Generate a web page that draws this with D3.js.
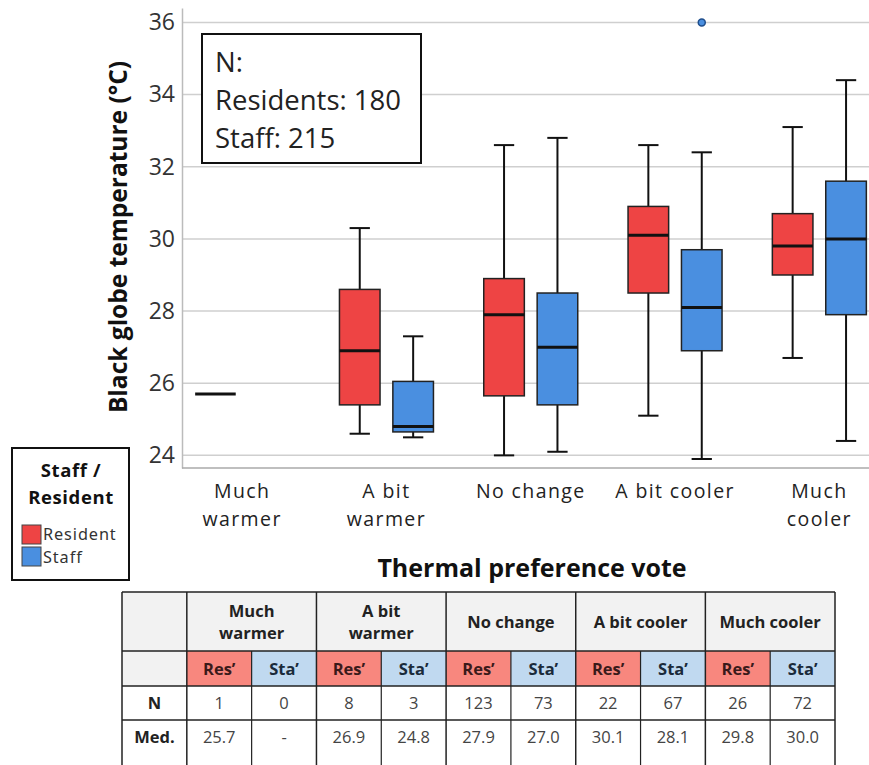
<!DOCTYPE html>
<html><head><meta charset="utf-8">
<script src="https://cdn.jsdelivr.net/npm/d3@7"></script>
<style>body{margin:0;background:#fff}svg{display:block}</style>
</head><body>
<script>
// ---- data ----
const categories = ["Much warmer","A bit warmer","No change","A bit cooler","Much cooler"];
const categoryLabels = [["Much","warmer"],["A bit","warmer"],["No change"],["A bit cooler"],["Much","cooler"]];
const groups = ["Resident","Staff"];
// [whiskerLow, q1, median, q3, whiskerHigh]
const residentStats = [
  [25.7,25.7,25.7,25.7,25.7],
  [24.6,25.4,26.9,28.6,30.3],
  [24.0,25.65,27.9,28.9,32.6],
  [25.1,28.5,30.1,30.9,32.6],
  [26.7,29.0,29.8,30.7,33.1]
];
const staffStats = [
  null,
  [24.5,24.65,24.8,26.05,27.3],
  [24.1,25.4,27.0,28.5,32.8],
  [23.9,26.9,28.1,29.7,32.4],
  [24.4,27.9,30.0,31.6,34.4]
];
const staffOutliers = [[], [], [], [36.0], []];
const yTicks = [24,26,28,30,32,34,36];
const nResidents = 180, nStaff = 215;
const tableN_Res = [1,8,123,22,26];
const tableN_Sta = [0,3,73,67,72];
const tableMed_Res = ["25.7","26.9","27.9","30.1","29.8"];
const tableMed_Sta = ["-","24.8","27.0","28.1","30.0"];
const tableHeaders = [["Much","warmer"],["A bit","warmer"],["No change"],["A bit cooler"],["Much cooler"]];

// ---- setup ----
const W = 869, H = 765;
const svg = d3.select("body").append("svg").attr("width", W).attr("height", H);
const font = "'Open Sans', Lato, sans-serif";
const colors = {Resident:"#ee4444", Staff:"#4a8fe0"};

const y = d3.scaleLinear().domain([23.65, 36.4]).range([468, 8]);
const x = d3.scaleBand().domain(categories).range([170, 891.5]).paddingInner(0).paddingOuter(0);
const sub = d3.scaleBand().domain(groups).range([-47, 47]).paddingInner(0.24).paddingOuter(0);
const plotLeft = 182, plotRight = W;

// gridlines
svg.append("g").selectAll("line").data(yTicks).join("line")
  .attr("x1", plotLeft).attr("x2", plotRight)
  .attr("y1", d => y(d)).attr("y2", d => y(d))
  .attr("stroke", "#cfcfcf").attr("stroke-width", 1.5);

// y axis
const yAxis = svg.append("g").attr("transform", `translate(${plotLeft},0)`)
  .call(d3.axisLeft(y).tickValues(yTicks).tickSize(0).tickPadding(7));
yAxis.select(".domain").attr("stroke", "#bbb").attr("stroke-width", 1.5);
yAxis.selectAll("text").attr("font-family", font).attr("font-size", 23).attr("fill", "#333");
// x axis line
svg.append("line").attr("x1", plotLeft).attr("x2", plotRight).attr("y1", 468).attr("y2", 468)
  .attr("stroke", "#aaa").attr("stroke-width", 1.5);

// y label
svg.append("text").attr("transform", `translate(127,237) rotate(-90)`)
  .attr("text-anchor", "middle").attr("font-family", font).attr("font-weight", "bold")
  .attr("font-size", 24.5).attr("fill", "#111").text("Black globe temperature (°C)");

// boxes
function drawBox(stats, cat, grp) {
  if (!stats) return;
  const cx = x(cat) + x.bandwidth()/2 + sub(grp) + sub.bandwidth()/2;
  const bw = sub.bandwidth();
  const g = svg.append("g");
  const [lo, q1, med, q3, hi] = stats;
  if (q3 > q1) {
    g.append("line").attr("x1", cx).attr("x2", cx).attr("y1", y(hi)).attr("y2", y(q3)).attr("stroke", "#111").attr("stroke-width", 2);
    g.append("line").attr("x1", cx).attr("x2", cx).attr("y1", y(q1)).attr("y2", y(lo)).attr("stroke", "#111").attr("stroke-width", 2);
    [lo, hi].forEach(v => g.append("line").attr("x1", cx - bw/4).attr("x2", cx + bw/4)
      .attr("y1", y(v)).attr("y2", y(v)).attr("stroke", "#111").attr("stroke-width", 2));
    g.append("rect").attr("x", cx - bw/2).attr("width", bw).attr("y", y(q3)).attr("height", y(q1) - y(q3))
      .attr("fill", colors[grp]).attr("stroke", "#222").attr("stroke-width", 1.5);
  }
  g.append("line").attr("x1", cx - bw/2).attr("x2", cx + bw/2).attr("y1", y(med)).attr("y2", y(med))
    .attr("stroke", "#111").attr("stroke-width", 3);
}
categories.forEach((c, i) => {
  drawBox(residentStats[i], c, "Resident");
  drawBox(staffStats[i], c, "Staff");
  staffOutliers[i].forEach(v => {
    const cx = x(c) + x.bandwidth()/2 + sub("Staff") + sub.bandwidth()/2;
    svg.append("circle").attr("cx", cx).attr("cy", y(v)).attr("r", 3.5)
      .attr("fill", colors.Staff).attr("stroke", "#1f4e8c").attr("stroke-width", 1.5);
  });
});

// x category labels (one text element per line)
categories.forEach((c, i) => {
  categoryLabels[i].forEach((ln, j) => svg.append("text").attr("text-anchor", "middle")
    .attr("font-family", font).attr("font-size", 19.5).attr("letter-spacing", 1.4).attr("fill", "#222")
    .attr("x", x(c) + x.bandwidth()/2).attr("y", 498 + j*27.5).text(ln));
});
svg.append("text").attr("x", 532).attr("y", 577).attr("text-anchor", "middle")
  .attr("font-family", font).attr("font-weight", "bold").attr("font-size", 25).attr("fill", "#111")
  .text("Thermal preference vote");

// N box
svg.append("rect").attr("x", 202).attr("y", 34).attr("width", 219).attr("height", 129)
  .attr("fill", "#fff").attr("stroke", "#111").attr("stroke-width", 2);
const nt = svg.append("text").attr("font-family", font).attr("font-size", 27.5).attr("fill", "#222");
["N:", `Residents: ${nResidents}`, `Staff: ${nStaff}`].forEach((s, j) =>
  nt.append("tspan").attr("x", 215).attr("y", 72 + j*38).text(s));

// legend
svg.append("rect").attr("x", 12).attr("y", 448).attr("width", 117).attr("height", 132)
  .attr("fill", "#fff").attr("stroke", "#111").attr("stroke-width", 2);
["Staff /", "Resident"].forEach((s, j) => svg.append("text").attr("text-anchor", "middle")
  .attr("font-family", font).attr("font-weight", "bold").attr("font-size", 18.5)
  .attr("letter-spacing", 0.6).attr("fill", "#111")
  .attr("x", 71).attr("y", 477 + j*26.5).text(s));
groups.forEach((gname, j) => {
  svg.append("rect").attr("x", 22).attr("y", 525 + j*22).attr("width", 19).attr("height", 19)
    .attr("fill", colors[gname]).attr("stroke", "#444").attr("stroke-width", 1);
  svg.append("text").attr("x", 43).attr("y", 540 + j*23).attr("font-family", "'Noto Sans', sans-serif")
    .attr("font-size", 16.3).attr("letter-spacing", 0.9).attr("fill", "#333").text(gname);
});

// table
const colIdx = d3.range(11);
const tx = d3.scaleBand().domain(colIdx).range([122, 835]);
const rowY = [592, 651, 686, 720, 770];
const tg = svg.append("g");
const cellFill = (r, c) => {
  if (r === 0) return "#f2f2f2";
  if (r === 1) return c === 0 ? "#f2f2f2" : (c % 2 === 1 ? "#f8877e" : "#c0d9f0");
  return "#fff";
};
for (let r = 0; r < 4; r++) {
  if (r === 0) {
    tg.append("rect").attr("x", tx(0)).attr("y", rowY[0]).attr("width", tx(10) + tx.bandwidth() - tx(0))
      .attr("height", rowY[1] - rowY[0]).attr("fill", "#f2f2f2");
  } else {
    colIdx.forEach(c => tg.append("rect").attr("x", tx(c)).attr("y", rowY[r]).attr("width", tx.bandwidth())
      .attr("height", rowY[r+1] - rowY[r]).attr("fill", cellFill(r, c)));
  }
}
const tt = (xx, yy, s, bold, fill) => tg.append("text").attr("x", xx).attr("y", yy).attr("text-anchor", "middle")
  .attr("font-family", font).attr("font-size", 16.5).attr("font-weight", bold ? "bold" : "normal")
  .attr("fill", fill).text(s);
// header row 1
categories.forEach((c, i) => {
  const cx = tx(1 + 2*i) + tx.bandwidth();
  const lines = tableHeaders[i];
  const midY = (rowY[0] + rowY[1]) / 2;
  lines.forEach((ln, j) => tt(cx, midY + 6 + (j - (lines.length - 1)/2) * 22, ln, true, "#222"));
  tt(tx(1 + 2*i) + tx.bandwidth()/2, (rowY[1]+rowY[2])/2 + 6, "Res’", true, "#3a1a1a");
  tt(tx(2 + 2*i) + tx.bandwidth()/2, (rowY[1]+rowY[2])/2 + 6, "Sta’", true, "#1a2a3a");
  tt(tx(1 + 2*i) + tx.bandwidth()/2, (rowY[2]+rowY[3])/2 + 6, tableN_Res[i], false, "#444");
  tt(tx(2 + 2*i) + tx.bandwidth()/2, (rowY[2]+rowY[3])/2 + 6, tableN_Sta[i], false, "#444");
  tt(tx(1 + 2*i) + tx.bandwidth()/2, (rowY[3]+rowY[4])/2 - 2, tableMed_Res[i], false, "#444");
  tt(tx(2 + 2*i) + tx.bandwidth()/2, (rowY[3]+rowY[4])/2 - 2, tableMed_Sta[i], false, "#444");
});
tt(tx(0) + tx.bandwidth()/2, (rowY[2]+rowY[3])/2 + 6, "N", true, "#222");
tt(tx(0) + tx.bandwidth()/2, (rowY[3]+rowY[4])/2 - 2, "Med.", true, "#222");
// grid lines of table
const tl = (x1, y1, x2, y2, w) => tg.append("line").attr("x1", x1).attr("y1", y1).attr("x2", x2).attr("y2", y2)
  .attr("stroke", "#222").attr("stroke-width", w);
const tRight = tx(10) + tx.bandwidth();
rowY.slice(0, 4).forEach(yy => tl(tx(0), yy, tRight, yy, 1.5));
// vertical lines
tl(tx(0), rowY[0], tx(0), rowY[4], 1.5);
tl(tRight, rowY[0], tRight, rowY[4], 1.5);
for (let c = 1; c <= 10; c++) {
  const xx = tx(c);
  if (c % 2 === 1) tl(xx, rowY[0], xx, rowY[4], 1.5);
  else tl(xx, rowY[1], xx, rowY[4], 1.2);
}
</script>
</body></html>
